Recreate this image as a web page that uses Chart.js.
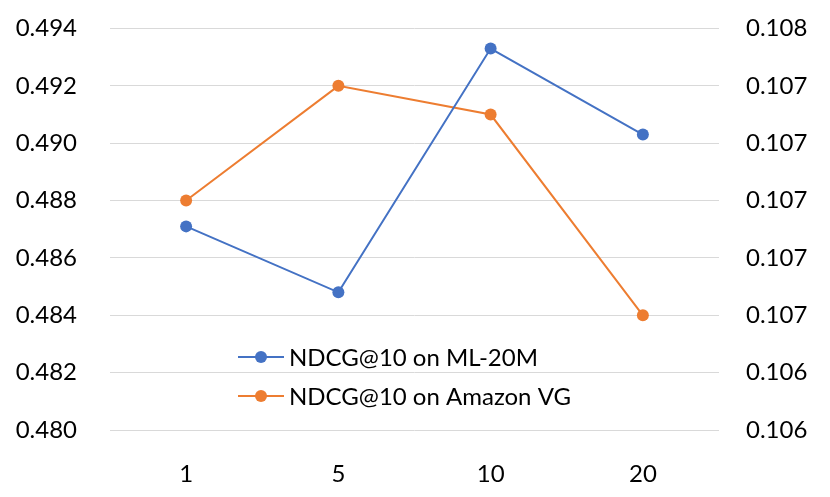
<!DOCTYPE html>
<html>
<head>
<meta charset="utf-8">
<script src="https://cdn.jsdelivr.net/npm/chart.js@4"></script>
<style>
html,body{margin:0;padding:0;background:#fff;}
#wrap{width:830px;height:497px;position:relative;}
</style>
</head>
<body>
<div id="wrap"><canvas id="c" width="830" height="497"></canvas></div>
<script>
const categories = ['1', '5', '10', '20'];
const ml20mValues = [0.4871, 0.4848, 0.4933, 0.4903];
const amazonVgValues = [0.1069, 0.1073, 0.1072, 0.1065];
const seriesNames = ['NDCG@10 on ML-20M', 'NDCG@10 on Amazon VG'];
const rightTickLabels = ['0.106', '0.106', '0.107', '0.107', '0.107', '0.107', '0.107', '0.108'];

const FONT = 'Lato';
const legendPlugin = {
  id: 'inlineLegend',
  afterDraw(chart) {
    const ctx = chart.ctx;
    const rows = [357, 396];
    ctx.save();
    chart.data.datasets.forEach((ds, i) => {
      const y = rows[i];
      ctx.strokeStyle = ds.borderColor;
      ctx.lineWidth = 2;
      ctx.beginPath();
      ctx.moveTo(238, y);
      ctx.lineTo(284, y);
      ctx.stroke();
      ctx.fillStyle = ds.backgroundColor;
      ctx.beginPath();
      ctx.arc(261, y, 6, 0, Math.PI * 2);
      ctx.fill();
      ctx.fillStyle = '#000';
      ctx.font = '24px ' + FONT;
      ctx.textBaseline = 'middle';
      ctx.textAlign = 'left';
      ctx.fillText(ds.label, 289, y + 1);
    });
    ctx.restore();
  }
};

new Chart(document.getElementById('c'), {
  type: 'line',
  data: {
    labels: categories,
    datasets: [
      {
        label: seriesNames[0],
        data: ml20mValues,
        yAxisID: 'y',
        borderColor: '#4472C4',
        backgroundColor: '#4472C4',
        borderWidth: 2,
        pointRadius: 6,
        pointHoverRadius: 6,
        pointBorderWidth: 0,
        tension: 0
      },
      {
        label: seriesNames[1],
        data: amazonVgValues,
        yAxisID: 'y1',
        borderColor: '#ED7D31',
        backgroundColor: '#ED7D31',
        borderWidth: 2,
        pointRadius: 6,
        pointHoverRadius: 6,
        pointBorderWidth: 0,
        tension: 0
      }
    ]
  },
  options: {
    responsive: false,
    animation: false,
    devicePixelRatio: 1,
    layout: { padding: { top: 28.5, bottom: 0, left: 0, right: 0 } },
    plugins: { legend: { display: false }, tooltip: { enabled: false } },
    scales: {
      x: {
        type: 'category',
        offset: true,
        grid: { display: false },
        border: { display: false },
        ticks: { color: '#000', font: { family: FONT, size: 24 }, padding: 22 },
        afterFit(s) { s.height = 67; }
      },
      y: {
        position: 'left',
        min: 0.480,
        max: 0.494,
        ticks: {
          stepSize: 0.002,
          color: '#000',
          font: { family: FONT, size: 24 },
          padding: 0,
          callback: (v) => Number(v).toFixed(3)
        },
        grid: { color: '#D9D9D9', lineWidth: 1, drawTicks: true, tickLength: 33, tickColor: 'rgba(0,0,0,0)' },
        border: { display: false },
        afterFit(s) { s.width = 110; }
      },
      y1: {
        position: 'right',
        min: 0.1061,
        max: 0.1075,
        ticks: {
          stepSize: 0.0002,
          color: '#000',
          font: { family: FONT, size: 24 },
          padding: 0,
          callback: (v, i) => rightTickLabels[i]
        },
        grid: { display: true, drawOnChartArea: false, drawTicks: true, tickLength: 27, color: 'rgba(0,0,0,0)', tickColor: 'rgba(0,0,0,0)' },
        border: { display: false },
        afterFit(s) { s.width = 111; }
      }
    }
  },
  plugins: [legendPlugin]
});
</script>
</body>
</html>
